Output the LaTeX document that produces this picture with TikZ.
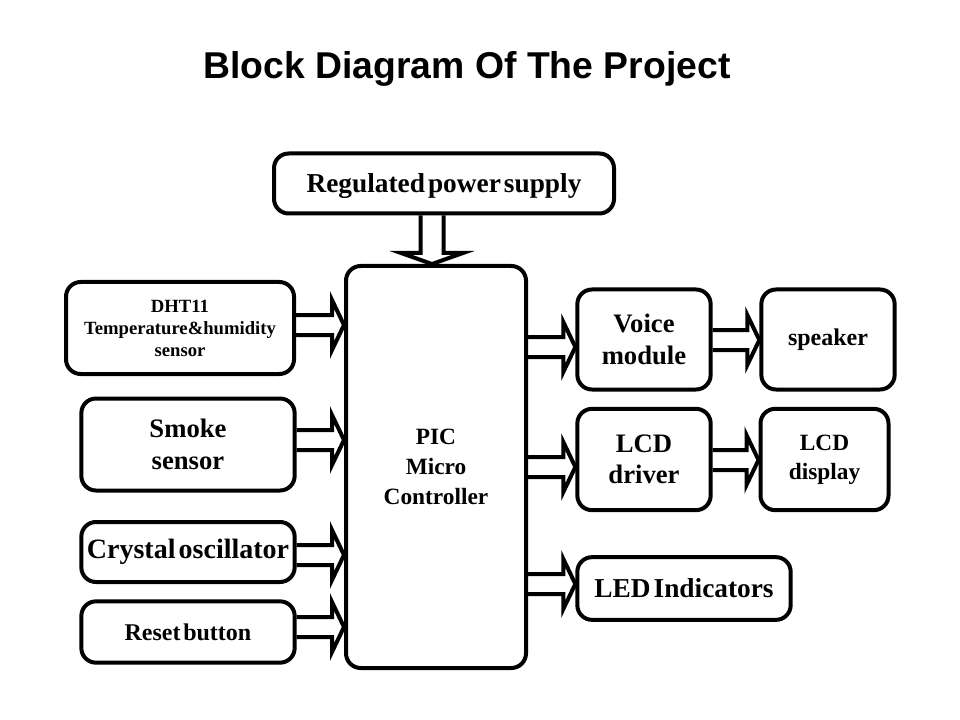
\documentclass[tikz,border=0pt]{standalone}
\usepackage{fontspec}
\setmainfont{Liberation Serif}[WordSpace=0.45]
\newfontfamily\titlefont{Liberation Sans}
\usetikzlibrary{calc}
\tikzset{
  box/.style={draw=black, line width=3pt, rounded corners=11pt, align=center,
    font=\bfseries, inner sep=0pt},
  barrow/.style={draw=black, line width=3pt, line join=miter, miter limit=10},
}
\newcommand\fs[2]{\fontsize{#1}{#2}\selectfont}
% horizontal block arrow: source node, target node, y (px)
\newcommand\hblock[3]{%
  \coordinate (yy) at (0,#3);
  \coordinate (s) at (#1.east |- yy);
  \coordinate (t) at (#2.west |- yy);
  \draw[barrow] ($(s)+(0,-10)$) -- ($(t)+(-12,-10)$) -- ($(t)+(-12,-25)$) -- (t)
     -- ($(t)+(-12,25)$) -- ($(t)+(-12,10)$) -- ($(s)+(0,10)$);
}
\begin{document}
\begin{tikzpicture}[x=0.75pt,y=-0.75pt]
\useasboundingbox (0,0) rectangle (960,720);
\fill[white] (0,0) rectangle (960,720);

\node[font=\titlefont\bfseries\fs{28}{32}] (title) at (467,69) {Block Diagram Of The Project};

\node[box, minimum width=255pt, minimum height=45pt, font=\bfseries\fs{20.5}{22}, text depth=1pt] (psu) at (444,183.5) {Regulated power supply};
\node[box, minimum width=135pt, minimum height=301.5pt, font=\bfseries\fs{17.5}{22.5}] (pic) at (436,467) {PIC\\Micro\\Controller};

\node[box, minimum width=171pt, minimum height=69pt, font=\bfseries\fs{14}{16.5}] (dht) at (180,328) {DHT11\\Temperature\&humidity\\sensor};
\node[box, minimum width=160pt, minimum height=69pt, font=\bfseries\fs{20}{24}] (smoke) at (188,444.5) {Smoke\\sensor};
\node[box, minimum width=160pt, minimum height=45pt, font=\bfseries\fs{21}{24}] (xtal) at (188,552) {Crystal oscillator};
\node[box, minimum width=160pt, minimum height=46pt, font=\bfseries\fs{18}{20}] (reset) at (188,632) {Reset button};

\node[box, minimum width=100pt, minimum height=75pt, font=\bfseries\fs{20}{24}] (voice) at (644,339.5) {Voice\\module};
\node[box, minimum width=100pt, minimum height=75pt, font=\bfseries\fs{18}{22}] (spk) at (828,339.5) {speaker};
\node[box, minimum width=100pt, minimum height=76pt, font=\bfseries\fs{20}{23.5}] (lcdd) at (644,459.5) {LCD\\driver};
\node[box, minimum width=96pt, minimum height=76pt, font=\bfseries\fs{17.5}{22}] (lcd) at (824.5,459.5) {LCD\\display};
\node[box, minimum width=160pt, minimum height=47pt, font=\bfseries\fs{20.5}{22}] (led) at (684,588.5) {LED Indicators};

% power arrow (vertical)
\coordinate (xx) at (432,0);
\coordinate (ps) at (psu.south -| xx);
\coordinate (pt) at (pic.north -| xx);
\draw[barrow] ($(ps)+(-11.5,0)$) -- ($(pt)+(-11.5,-11)$) -- ($(pt)+(-31,-11)$) -- (pt)
   -- ($(pt)+(31,-11)$) -- ($(pt)+(11.5,-11)$) -- ($(ps)+(11.5,0)$);

\hblock{dht}{pic}{325}
\hblock{smoke}{pic}{440}
\hblock{xtal}{pic}{555}
\hblock{reset}{pic}{627}
\hblock{pic}{voice}{347}
\hblock{pic}{lcdd}{467}
\hblock{pic}{led}{584}
\hblock{voice}{spk}{340}
\hblock{lcdd}{lcd}{460}
\end{tikzpicture}
\end{document}
